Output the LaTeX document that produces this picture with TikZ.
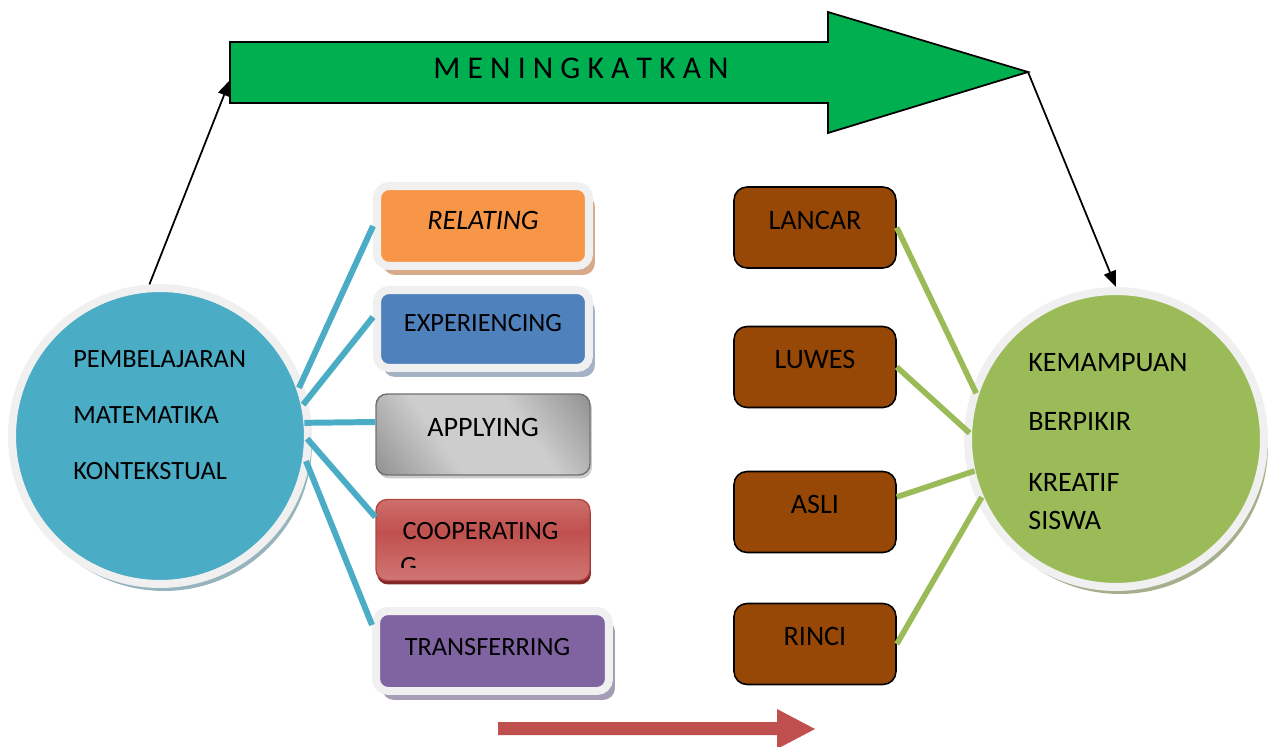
\documentclass[tikz,border=0pt]{standalone}
\usepackage{fontspec}
\setmainfont{Carlito}
\usetikzlibrary{positioning,arrows.meta,shadows}

\definecolor{pmkBlue}{HTML}{4BACC6}
\definecolor{pmkShadow}{RGB}{150,180,190}
\definecolor{kbkGreen}{HTML}{9BBB59}
\definecolor{kbkShadow}{RGB}{165,175,140}
\definecolor{mkGreen}{HTML}{00B050}
\definecolor{frameGray}{RGB}{240,240,240}
\definecolor{relOrange}{HTML}{F79646}
\definecolor{relShadow}{RGB}{215,170,140}
\definecolor{expBlue}{HTML}{4F81BD}
\definecolor{expShadow}{RGB}{165,178,198}
\definecolor{transPurple}{HTML}{8064A2}
\definecolor{transShadow}{RGB}{165,156,181}
\definecolor{appDark}{RGB}{105,105,105}
\definecolor{appLight}{RGB}{205,205,205}
\definecolor{appBorder}{RGB}{112,112,112}
\definecolor{coopRed}{HTML}{C0504D}
\definecolor{coopLight}{RGB}{222,150,148}
\definecolor{coopBorder}{RGB}{180,70,66}
\definecolor{coopShadow}{RGB}{128,40,38}
\definecolor{brownFill}{HTML}{974806}
\definecolor{redArrow}{HTML}{C0504D}

\pgfdeclarehorizontalshading{appshade}{100bp}{color(0bp)=(appDark); color(38bp)=(appLight); color(62bp)=(appLight); color(100bp)=(appDark)}
\pgfdeclareverticalshading{coopshade}{100bp}{color(0bp)=(coopLight); color(55bp)=(coopRed); color(100bp)=(coopLight)}

\begin{document}
\begin{tikzpicture}
    [x=0.02cm, y=-0.02cm,
     every node/.style={font=\fontsize{15}{18}\selectfont},
     bigcircle/.style={circle, draw=frameGray, line width=0.16cm, inner sep=0pt, minimum size=5.92cm},
     framebox/.style={rectangle, rounded corners=0.24cm, draw=frameGray, line width=0.16cm,
       minimum width=4.24cm, minimum height=1.6cm, text height=9.7pt, text depth=0.24cm},
     plainbox/.style={rectangle, rounded corners=0.22cm, line width=0.8pt,
       minimum width=4.28cm, minimum height=1.62cm, text height=9.7pt, text depth=0.24cm},
     brownbox/.style={rectangle, rounded corners=0.26cm, fill=brownFill, draw=black, line width=0.9pt,
       minimum width=3.24cm, minimum height=1.62cm, text height=10.3pt, text depth=0.3cm,
       font=\fontsize{16}{19}\selectfont},
     blueline/.style={pmkBlue, line width=3.4pt, shorten <=-0.14cm},
     greenline/.style={kbkGreen, line width=3.2pt, shorten >=-0.14cm},
     thinarrow/.style={-{Triangle[length=0.32cm,width=0.25cm]}, line width=1pt}]

    \useasboundingbox (0,0) rectangle (1275,747);

    % big arrow on top
    \coordinate (mkTail) at (230,80);
    \coordinate (mkTip) at (1028,72);
    \draw[fill=mkGreen, line width=1pt] (230,42) -- (828,42) -- (828,12) -- (mkTip)
      -- (828,133) -- (828,103) -- (230,103) -- cycle;
    \node[font=\fontsize{18}{20}\selectfont] (mkText) at (581,68) {M E N I N G K A T K A N};

    % circles
    \node[bigcircle, fill=pmkBlue,
      drop shadow={fill=pmkShadow, opacity=1, shadow xshift=0.08cm, shadow yshift=-0.14cm}] (pmk) at (160,436) {};
    \node[anchor=north west, align=left, inner sep=0pt] (pmkText) at (73,350)
      {PEMBELAJARAN\\[14pt]MATEMATIKA\\[14pt]KONTEKSTUAL};

    \node[bigcircle, fill=kbkGreen,
      drop shadow={fill=kbkShadow, opacity=1, shadow xshift=0.08cm, shadow yshift=-0.14cm}] (kbk) at (1116,439) {};
    \node[anchor=north west, align=left, inner sep=0pt, font=\fontsize{16}{19.2}\selectfont] (kbkText) at (1028,353)
      {KEMAMPUAN\\[14.2pt]BERPIKIR\\[15.7pt]KREATIF\\[2.3pt]SISWA};

    % left column
    \node[framebox, fill=relOrange, text depth=0.2cm, font=\fontsize{16}{19}\selectfont\itshape,
      drop shadow={fill=relShadow, opacity=1, shadow xshift=0.12cm, shadow yshift=-0.18cm}] (rel) at (483,226) {RELATING};
    \node[framebox, fill=expBlue, minimum height=1.56cm,
      drop shadow={fill=expShadow, opacity=1, shadow xshift=0.12cm, shadow yshift=-0.18cm}] (exp) at (483,329) {EXPERIENCING};
    \node[plainbox, shading=appshade, shading angle=35, draw=appBorder, text depth=0.26cm,
      font=\fontsize{16}{19}\selectfont,
      drop shadow={fill=appLight, opacity=1, shadow xshift=0.04cm, shadow yshift=-0.07cm}] (app) at (483,434.5) {APPLYING};
    \node[plainbox, shading=coopshade, draw=coopBorder, text depth=0.36cm,
      drop shadow={fill=coopShadow, opacity=1, shadow xshift=0.02cm, shadow yshift=-0.08cm}] (coop) at (483,540) {COOPERATING\hspace*{0.1cm}};
    \begin{scope}
      \clip (380,545) rectangle (590,567);
      \node[anchor=north west, inner sep=0pt, text height=9.7pt] (coopG) at (400,557) {G};
    \end{scope}
    \node[framebox, fill=transPurple, minimum width=4.66cm, text depth=0.16cm,
      drop shadow={fill=transShadow, opacity=1, shadow xshift=0.12cm, shadow yshift=-0.18cm}] (trans) at (492.5,651) {TRANSFERRING\hspace*{0.2cm}};

    % right column
    \node[brownbox] (lancar) at (815,227.5) {LANCAR};
    \node[brownbox] (luwes) at (815,367) {LUWES};
    \node[brownbox] (asli) at (815,512) {ASLI};
    \node[brownbox] (rinci) at (815,644) {RINCI};

    % connectors
    \draw[blueline] (pmk.21) -- (rel.west);
    \draw[blueline] (pmk.14) -- ([yshift=0.24cm]exp.west);
    \draw[blueline] (pmk.5) -- ([yshift=0.25cm]app.west);
    \draw[blueline] (pmk.-3) -- ([yshift=0.46cm]coop.west);
    \draw[blueline] (pmk.-12) -- ([yshift=0.52cm]trans.west);

    \draw[greenline] (lancar.east) -- (kbk.160);
    \draw[greenline] (luwes.east) -- (kbk.176);
    \draw[greenline] ([yshift=0.3cm]asli.east) -- (kbk.193);
    \draw[greenline] (rinci.east) -- (kbk.205);

    \draw[thinarrow] (pmk.94) -- (mkTail);
    \draw[thinarrow] (mkTip) -- (kbk.north);

    % arrow at the bottom
    \fill[redArrow] (498,722) -- (777,722) -- (777,709) -- (815,729) -- (777,749)
      -- (777,735) -- (498,735) -- cycle;
\end{tikzpicture}
\end{document}
